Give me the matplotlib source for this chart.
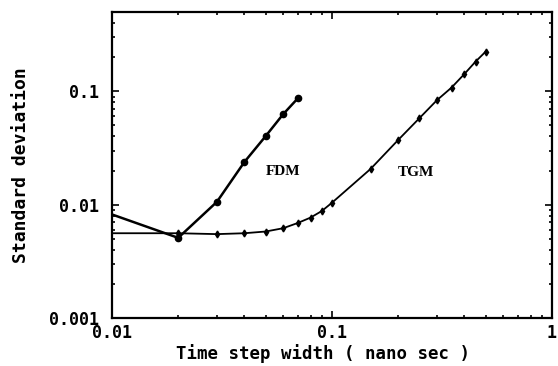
import matplotlib.pyplot as plt
from matplotlib.ticker import LogLocator, NullFormatter, FixedFormatter, FixedLocator

# FDM curve (filled circles)
fdm_dt = [0.01, 0.02, 0.03, 0.04, 0.05, 0.06, 0.07]
fdm_sd = [0.0082, 0.0051, 0.0106, 0.0238, 0.0403, 0.0628, 0.0868]

# TGM curve (small markers)
tgm_dt = [0.01, 0.02, 0.03, 0.04, 0.05, 0.06, 0.07, 0.08, 0.09, 0.1,
          0.15, 0.2, 0.25, 0.3, 0.35, 0.4, 0.45, 0.5]
tgm_sd = [0.0056, 0.0056, 0.0055, 0.0056, 0.0058, 0.0062, 0.0069, 0.0077, 0.0088, 0.0104,
          0.0207, 0.0372, 0.058, 0.0834, 0.108, 0.142, 0.183, 0.224]

x_ticks = [0.01, 0.1, 1]
x_tick_labels = ['0.01', '0.1', '1']
y_ticks = [0.001, 0.01, 0.1]
y_tick_labels = ['0.001', '0.01', '0.1']

mono = 'DejaVu Sans Mono'

fig = plt.figure(figsize=(5.58, 3.66), dpi=100)
ax = fig.add_axes([0.2007, 0.131, 0.7883, 0.836])

# first points sit on the left spine, no marker drawn there
ax.plot(fdm_dt, fdm_sd, color='black', lw=1.8, marker='o', ms=4.5,
        markevery=range(1, len(fdm_dt)), zorder=3)
ax.plot(tgm_dt, tgm_sd, color='black', lw=1.3, marker='d', ms=3.5,
        markevery=range(1, len(tgm_dt)), zorder=2)

ax.set_xscale('log')
ax.set_yscale('log')
ax.set_xlim(0.01, 1)
ax.set_ylim(0.001, 0.5)

ax.xaxis.set_major_locator(FixedLocator(x_ticks))
ax.xaxis.set_major_formatter(FixedFormatter(x_tick_labels))
ax.yaxis.set_major_locator(FixedLocator(y_ticks))
ax.yaxis.set_major_formatter(FixedFormatter(y_tick_labels))
ax.xaxis.set_minor_locator(LogLocator(base=10, subs=range(2, 10)))
ax.yaxis.set_minor_locator(LogLocator(base=10, subs=range(2, 10)))
ax.xaxis.set_minor_formatter(NullFormatter())
ax.yaxis.set_minor_formatter(NullFormatter())

ax.tick_params(which='both', direction='in', top=True, right=True, width=1.2)
ax.tick_params(which='major', length=5)
ax.tick_params(axis='x', which='major', pad=4)
ax.tick_params(axis='y', which='major', pad=9)
ax.tick_params(which='minor', length=2.5)
for lab in ax.get_xticklabels() + ax.get_yticklabels():
    lab.set_fontfamily(mono)
    lab.set_fontweight('bold')
    lab.set_fontsize(12)

for sp in ax.spines.values():
    sp.set_linewidth(1.6)

ax.set_xlabel('Time step width ( nano sec )', family=mono, weight='bold',
              fontsize=12.5, labelpad=0)
ax.xaxis.set_label_coords(0.48, -0.085)
ax.set_ylabel('Standard deviation', family=mono, weight='bold',
              fontsize=13, labelpad=14)

ax.text(0.0598, 0.0195, 'FDM', family='Liberation Serif', weight='bold', fontsize=11,
        ha='center', va='center')
ax.text(0.241, 0.0191, 'TGM', family='Liberation Serif', weight='bold', fontsize=11,
        ha='center', va='center')

fig.savefig('out.png', dpi=100)
